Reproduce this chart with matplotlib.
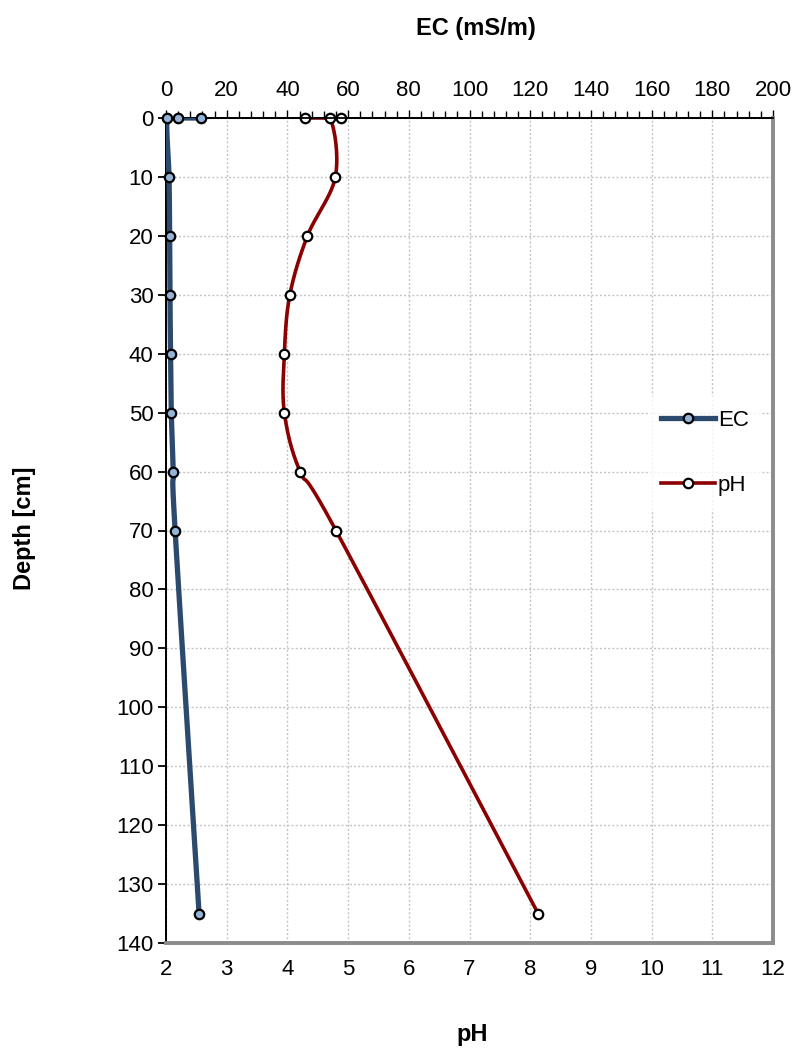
import numpy as np
import matplotlib
matplotlib.use("Agg")
import matplotlib.pyplot as plt
from matplotlib.ticker import MultipleLocator
from matplotlib.lines import Line2D

plt.rcParams['font.family'] = ['Liberation Sans', 'DejaVu Sans']

# ---- data ----
ec_depth = [0, 0, 0, 10, 20, 30, 40, 50, 60, 70, 135]
ec_values = [11.5, 4.0, 0.4, 1.0, 1.2, 1.3, 1.5, 1.75, 2.4, 3.0, 10.9]

ph_depth = [0, 0, 0, 10, 20, 30, 40, 50, 60, 70, 135]
ph_values = [4.88, 4.29, 4.70, 4.79, 4.33, 4.04, 3.95, 3.95, 4.21, 4.80, 8.13]

depth_ticks = list(range(0, 141, 10))
ph_ticks = list(range(2, 13))
ec_ticks = list(range(0, 201, 20))

W, H = 793, 1050
L, R, T, B = 166, 773, 118, 943

fig = plt.figure(figsize=(W / 100, H / 100), dpi=100)
ax = fig.add_axes([L / W, 1 - B / H, (R - L) / W, (B - T) / H])
ax2 = ax.twiny()

ax.set_xlim(2, 12)
ax.set_ylim(140, 0)
ax2.set_xlim(0, 200)


def smooth(xs, ys, sx, sy, n=30):
    """Excel-like smoothed curve through points (computed in pixel space)."""
    P = np.column_stack([np.asarray(xs, float) * sx, np.asarray(ys, float) * sy])
    out = [P[0]]
    m = len(P)
    for i in range(m - 1):
        p0 = P[i - 1] if i > 0 else P[i]
        p1, p2 = P[i], P[i + 1]
        p3 = P[i + 2] if i + 2 < m else P[i + 1]
        c1 = p1 + (p2 - p0) / 6.0
        c2 = p2 - (p3 - p1) / 6.0
        t = np.linspace(0, 1, n)[1:, None]
        seg = ((1 - t) ** 3) * p1 + 3 * ((1 - t) ** 2) * t * c1 + 3 * (1 - t) * t ** 2 * c2 + t ** 3 * p2
        out.extend(seg)
    out = np.array(out)
    return out[:, 0] / sx, out[:, 1] / sy


sy = (B - T) / 140.0
ec_col = '#2B4A6E'
ph_col = '#8B0000'
FS = 16

# pH on bottom axis
px, py = smooth(ph_values, ph_depth, (R - L) / 10.0, sy)
ax.plot(px, py, color=ph_col, lw=2.6, zorder=3, solid_capstyle='round')
ax.plot(ph_values, ph_depth, ls='none', marker='o', ms=6.8, mfc='white', mec='black', mew=1.6, zorder=4, clip_on=False)

# EC on top axis
ex, ey = smooth(ec_values, ec_depth, (R - L) / 200.0, sy)
ax2.plot(ex, ey, color=ec_col, lw=3.8, zorder=3, solid_capstyle='round')
ax2.plot(ec_values, ec_depth, ls='none', marker='o', ms=6.8, mfc='#95B3D7', mec='black', mew=1.6, zorder=4, clip_on=False)
ax2.set_ylim(140, 0)

# ticks & grid
ax.set_xticks(ph_ticks)
ax.set_yticks(depth_ticks)
ax.tick_params(axis='x', bottom=False, labelsize=FS, pad=8)
ax.tick_params(axis='y', direction='out', length=6, width=1.3, labelsize=FS, pad=3)
ax.grid(True, color='#c4c4c4', ls=(0, (1.5, 1.5)), lw=1.0)
ax.set_axisbelow(True)

ax2.set_xticks(ec_ticks)
ax2.xaxis.set_minor_locator(MultipleLocator(4))
ax2.tick_params(axis='x', which='major', direction='out', length=6, width=1.0, labelsize=FS, pad=6)
ax2.tick_params(axis='x', which='minor', direction='out', length=5, width=1.0)

for a in (ax, ax2):
    a.spines['bottom'].set_color('#8c8c8c')
    a.spines['bottom'].set_linewidth(2.6)
    a.spines['right'].set_color('#8c8c8c')
    a.spines['right'].set_linewidth(2.6)
    a.spines['left'].set_color('black')
    a.spines['left'].set_linewidth(1.3)
    a.spines['top'].set_color('black')
    a.spines['top'].set_linewidth(1.3)

# axis titles
fig.text(476 / W, 1 - 28 / H, 'EC (mS/m)', ha='center', va='center', fontsize=17, fontweight='bold')
fig.text(472 / W, 1 - 1035 / H, 'pH', ha='center', va='center', fontsize=17, fontweight='bold')
fig.text(24 / W, 1 - 528 / H, 'Depth [cm]', ha='center', va='center', rotation=90, fontsize=17, fontweight='bold')

# legend
handles = [
    Line2D([], [], color=ec_col, lw=3.8, marker='o', ms=6.8, mfc='#95B3D7', mec='black', mew=1.6),
    Line2D([], [], color=ph_col, lw=2.6, marker='o', ms=6.8, mfc='white', mec='black', mew=1.6),
]
leg = ax2.legend(handles, ['EC', 'pH'], loc='center left', bbox_to_anchor=((648 - L) / (R - L), 1 - (453 - T) / (B - T)),
                 frameon=True, fontsize=FS, labelspacing=2.0, handlelength=2.4, handletextpad=0.15,
                 borderaxespad=0, borderpad=0.6, fancybox=False)
leg.get_frame().set_facecolor('white')
leg.get_frame().set_edgecolor('none')

fig.savefig('out.png', dpi=100)
